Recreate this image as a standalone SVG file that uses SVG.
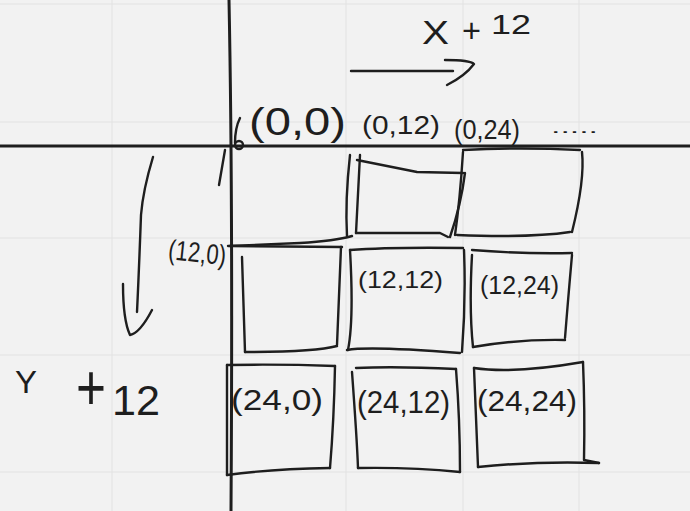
<svg xmlns="http://www.w3.org/2000/svg" width="690" height="511" viewBox="0 0 690 511">
<defs>
<style>
.grid{stroke:#e2e2e2;stroke-width:1;fill:none}
.ink{stroke:#1e1e1e;stroke-width:2.4;fill:none;stroke-linecap:round;stroke-linejoin:round}
.axis{stroke:#1e1e1e;stroke-width:3;fill:none;stroke-linecap:round}
.t{font-family:"Liberation Sans","DejaVu Sans",sans-serif;fill:#1e1e1e}
</style>
</defs>
<rect width="690" height="511" fill="#f2f2f2"/>
<g id="grid">
<path class="grid" d="M112,0V511M346,0V511M463,0V511M579,0V511M0,4H690M0,122H690M0,238H690M0,355H690M0,472H690"/>
</g>
<g id="axes">
<path class="axis" d="M0,146H690"/>
<path class="axis" d="M229,0Q233,200 231,511"/>
<path class="ink" d="M240,118Q235,128 235,143"/>
<circle class="ink" cx="239" cy="145" r="4"/>
<path class="ink" d="M225,150L219,185"/>
</g>
<g id="connectors">
<path class="ink" d="M351,71H453"/>
<path class="ink" d="M445,60Q470,60 474,64Q465,76 447,85"/>
<path class="ink" d="M153,157Q143,190 141,215Q139,270 137,312"/>
<path class="ink" d="M123,284Q123,320 130,335Q140,333 152,310"/>
</g>
<g id="label-x">
<text class="t" x="422" y="44" font-size="34" textLength="27" lengthAdjust="spacingAndGlyphs">X</text>
<text class="t" x="462" y="42" font-size="34" textLength="19" lengthAdjust="spacingAndGlyphs">+</text>
<text class="t" x="491" y="34" font-size="27" textLength="40" lengthAdjust="spacingAndGlyphs">12</text>
</g>
<g id="label-y">
<text class="t" x="15" y="393" font-size="32" textLength="22" lengthAdjust="spacingAndGlyphs">Y</text>
<text class="t" x="76" y="410" font-size="64" textLength="30" lengthAdjust="spacingAndGlyphs">+</text>
<text class="t" x="112" y="415" font-size="42" textLength="48" lengthAdjust="spacingAndGlyphs">12</text>
</g>
<g id="header-labels">
<text class="t" x="249" y="135" font-size="38" textLength="97" lengthAdjust="spacingAndGlyphs">(0,0)</text>
<text class="t" x="362" y="134" font-size="25" textLength="78" lengthAdjust="spacingAndGlyphs">(0,12)</text>
<text class="t" x="454" y="139" font-size="27" textLength="66" lengthAdjust="spacingAndGlyphs">(0,24)</text>
<text class="t" x="551" y="133" font-size="16" textLength="47" lengthAdjust="spacingAndGlyphs">.....</text>
<text class="t" x="168" y="262" font-size="28" textLength="58" lengthAdjust="spacingAndGlyphs" transform="rotate(6 196 255)">(12,0)</text>
</g>
<g id="cell-0-0">
<path class="ink" d="M350,155Q345,200 347,236"/>
<path class="ink" d="M228,246L300,243Q335,241 352,236"/>
</g>
<g id="cell-0-12">
<path class="ink" d="M360,155L356,233"/>
<path class="ink" d="M357,160L417,172L463,173"/>
<path class="ink" d="M465,173Q461,205 450,237"/>
<path class="ink" d="M356,233L440,233L448,237"/>
</g>
<g id="cell-0-24">
<path class="ink" d="M463,150Q520,147 580,150"/>
<path class="ink" d="M582,152Q585,180 572,232"/>
<path class="ink" d="M570,232Q530,238 457,235"/>
<path class="ink" d="M463,152Q460,200 455,235"/>
</g>
<g id="cell-12-0">
<path class="ink" d="M230,246L342,247"/>
<path class="ink" d="M341,247Q339,300 337,345"/>
<path class="ink" d="M337,346Q315,352 245,352"/>
<path class="ink" d="M242,257L245,352"/>
</g>
<g id="cell-12-12">
<path class="ink" d="M350,250Q390,247 463,248"/>
<path class="ink" d="M464,250Q466,300 462,352"/>
<path class="ink" d="M347,350Q370,346 460,353"/>
<path class="ink" d="M350,250Q354,320 348,350"/>
<text class="t" x="358" y="288" font-size="24" textLength="85" lengthAdjust="spacingAndGlyphs">(12,12)</text>
</g>
<g id="cell-12-24">
<path class="ink" d="M472,250Q520,254 572,253"/>
<path class="ink" d="M572,255Q568,300 565,338"/>
<path class="ink" d="M473,347Q520,339 565,340"/>
<path class="ink" d="M472,255Q469,310 473,347"/>
<text class="t" x="480" y="294" font-size="25" textLength="79" lengthAdjust="spacingAndGlyphs">(12,24)</text>
</g>
<g id="cell-24-0">
<path class="ink" d="M227,365Q280,364 335,366"/>
<path class="ink" d="M335,366Q334,420 330,468"/>
<path class="ink" d="M227,475Q270,469 330,468"/>
<path class="ink" d="M227,365L227,475"/>
<text class="t" x="231" y="410" font-size="29" textLength="92" lengthAdjust="spacingAndGlyphs">(24,0)</text>
</g>
<g id="cell-24-12">
<path class="ink" d="M356,368Q395,366 456,369"/>
<path class="ink" d="M456,369Q460,420 460,472"/>
<path class="ink" d="M358,468Q410,467 460,472"/>
<path class="ink" d="M352,372Q357,440 358,468"/>
<text class="t" x="357" y="413" font-size="31" textLength="93" lengthAdjust="spacingAndGlyphs">(24,12)</text>
</g>
<g id="cell-24-24">
<path class="ink" d="M474,368Q514,374 583,362"/>
<path class="ink" d="M583,362Q585,410 584,460L599,463"/>
<path class="ink" d="M478,467Q535,461 599,463"/>
<path class="ink" d="M474,368Q476,420 478,467"/>
<text class="t" x="477" y="411" font-size="30" textLength="100" lengthAdjust="spacingAndGlyphs">(24,24)</text>
</g>
</svg>
